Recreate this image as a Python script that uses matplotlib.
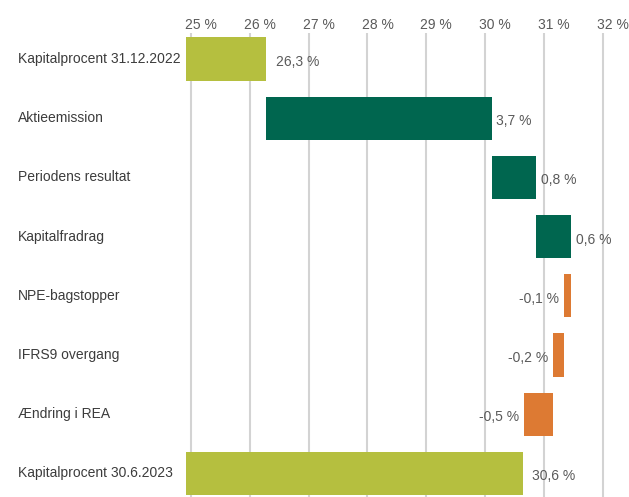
import matplotlib.pyplot as plt
import matplotlib.transforms as mtransforms

# --- Data ---
categories = ["Kapitalprocent 31.12.2022", "Aktieemission", "Periodens resultat",
              "Kapitalfradrag", "NPE-bagstopper", "IFRS9 overgang",
              "Ændring i REA", "Kapitalprocent 30.6.2023"]
start_value = 26.28
changes = [3.83, 0.75, 0.60, -0.12, -0.19, -0.49]
end_value = 30.64
value_labels = ["26,3 %", "3,7 %", "0,8 %", "0,6 %", "-0,1 %", "-0,2 %", "-0,5 %", "30,6 %"]
x_ticks = [25, 26, 27, 28, 29, 30, 31, 32]

OLIVE = "#b5bf3f"
GREEN = "#00664f"
ORANGE = "#dd7a33"
TEXT = "#5a5a5a"

plt.rcParams['font.family'] = ['Liberation Sans', 'DejaVu Sans']

fig = plt.figure(figsize=(6.29, 4.97), dpi=100)
ax = fig.add_axes([186 / 629, 0, 1 - 186 / 629, 1 - 33 / 497])

x_min, x_max = 24.92, 32.44
ax.set_xlim(x_min, x_max)
ax.set_ylim(7.4, -0.44)

bar_h = 0.73

# --- Bars ---
# totals start at the left edge of the axis
ax.barh(0, start_value - x_min, left=x_min, height=bar_h, color=OLIVE, zorder=2)
ax.barh(7, end_value - x_min, left=x_min, height=bar_h, color=OLIVE, zorder=2)

running = start_value
for i, d in enumerate(changes, start=1):
    color = GREEN if d > 0 else ORANGE
    ax.barh(i, d, left=running, height=bar_h, color=color, zorder=2)
    if d > 0:
        ax.text(running + d + 0.08, i + 0.05, value_labels[i], ha="left", va="center",
                fontsize=10, color=TEXT)
    else:
        ax.text(running + d - 0.08, i + 0.05, value_labels[i], ha="right", va="center",
                fontsize=10, color=TEXT)
    running += d

ax.text(start_value + 0.16, 0.05, value_labels[0], ha="left", va="center", fontsize=10, color=TEXT)
ax.text(end_value + 0.16, 7.05, value_labels[7], ha="left", va="center", fontsize=10, color=TEXT)

# --- Category labels (left aligned in figure space) ---
lab_trans = mtransforms.blended_transform_factory(fig.transFigure, ax.transData)
for i, c in enumerate(categories):
    ax.text(18 / 629, i, c, transform=lab_trans, ha="left", va="center",
            fontsize=10, color="#3c3c3c")

# --- Axis styling ---
ax.xaxis.tick_top()
ax.set_xticks(x_ticks)
ax.set_xticklabels([f"{t} %" for t in x_ticks], fontsize=10, color=TEXT)
ax.tick_params(axis="x", length=0, pad=1)
shift = mtransforms.ScaledTranslation(10 / 100, 0, fig.dpi_scale_trans)
for lbl in ax.get_xticklabels():
    lbl.set_transform(lbl.get_transform() + shift)
ax.set_yticks([])
ax.grid(axis="x", color="#d3d3d3", linewidth=1.5, zorder=0)
for s in ax.spines.values():
    s.set_visible(False)

fig.savefig("out.png", dpi=100)
